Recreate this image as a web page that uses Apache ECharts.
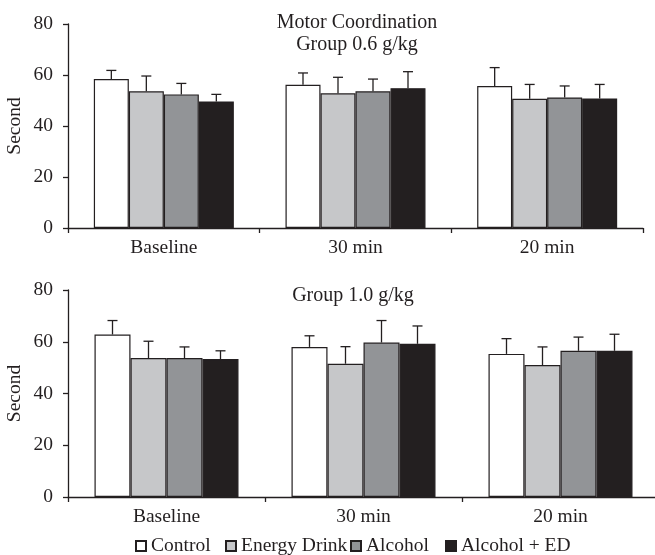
<!DOCTYPE html>
<html>
<head>
<meta charset="utf-8">
<script src="https://cdn.jsdelivr.net/npm/echarts@6/dist/echarts.min.js"></script>
<style>
  html, body { margin: 0; padding: 0; background: #fff; }
  #main { width: 655px; height: 555px; }
</style>
</head>
<body>
<div id="main"></div>
<script>
// data
var categories = ['Baseline', '30 min', '20 min'];
var groupNames = ['Control', 'Energy Drink', 'Alcohol', 'Alcohol + ED'];
var yTicks = [0, 20, 40, 60, 80];

// Group 0.6 g/kg (mean, upper error)
var low_control = [58.4, 56.2, 55.7];
var low_control_err = [3.4, 4.6, 7.2];
var low_energy = [53.6, 52.8, 50.7];
var low_energy_err = [6.0, 6.3, 5.6];
var low_alcohol = [52.4, 53.6, 51.2];
var low_alcohol_err = [4.3, 4.8, 4.5];
var low_alced = [49.6, 54.8, 50.8];
var low_alced_err = [2.8, 6.5, 5.5];

// Group 1.0 g/kg
var high_control = [62.8, 58.0, 55.3];
var high_control_err = [5.4, 4.3, 5.9];
var high_energy = [53.7, 51.5, 51.0];
var high_energy_err = [6.5, 6.6, 7.0];
var high_alcohol = [53.7, 59.7, 56.5];
var high_alcohol_err = [4.3, 8.5, 5.3];
var high_alced = [53.3, 59.2, 56.5];
var high_alced_err = [3.2, 6.9, 6.4];

var colors = ['#ffffff', '#c6c7c9', '#929497', '#231f20'];
var ink = '#231f20';
var font = '"Liberation Serif", "Times New Roman", serif';
var fs = 19.5;

var chart = echarts.init(document.getElementById('main'));

function xAxisFor(g) {
    return {
        type: 'category', gridIndex: g, data: categories,
        axisLine: { lineStyle: { color: ink, width: 1.3 } },
        axisTick: { show: true, length: 5, lineStyle: { color: ink, width: 1.3 } },
        axisLabel: { color: ink, fontFamily: font, fontSize: fs, margin: 10 }
    };
}
function yAxisFor(g) {
    return {
        type: 'value', gridIndex: g, min: yTicks[0], max: yTicks[yTicks.length - 1], interval: 20,
        name: 'Second', nameLocation: 'middle', nameGap: 43, nameMoveOverlap: false,
        nameTextStyle: { color: ink, fontFamily: font, fontSize: fs },
        splitLine: { show: false },
        axisLine: { show: true, lineStyle: { color: ink, width: 1.3 } },
        axisTick: { show: true, length: 5, lineStyle: { color: ink, width: 1.3 } },
        axisLabel: { color: ink, fontFamily: font, fontSize: fs, margin: 15 }
    };
}

var series = [];
function addGroup(g, barWidth, means, errs) {
    // bars
    means.forEach(function (m, i) {
        series.push({
            name: groupNames[i], type: 'bar', xAxisIndex: g, yAxisIndex: g,
            data: m, barWidth: barWidth, barGap: 0,
            itemStyle: { color: colors[i], borderColor: ink, borderWidth: 1.2 },
            emphasis: { disabled: true }
        });
    });
    // upper error bars
    means.forEach(function (m, i) {
        var off = (i - 1.5) * barWidth;
        series.push({
            name: 'err', type: 'custom', xAxisIndex: g, yAxisIndex: g, z: 5,
            data: m.map(function (v, k) { return [k, v, errs[i][k]]; }),
            renderItem: function (params, api) {
                var c = api.value(0), v = api.value(1), e = api.value(2);
                var p0 = api.coord([c, v]);
                var p1 = api.coord([c, v + e]);
                var x = p0[0] + off;
                var st = { stroke: ink, lineWidth: 1.3 };
                return {
                    type: 'group',
                    children: [
                        { type: 'line', shape: { x1: x, y1: p0[1], x2: x, y2: p1[1] }, style: st },
                        { type: 'line', shape: { x1: x - 5, y1: p1[1], x2: x + 5, y2: p1[1] }, style: st }
                    ]
                };
            }
        });
    });
}
addGroup(0, 35, [low_control, low_energy, low_alcohol, low_alced],
    [low_control_err, low_energy_err, low_alcohol_err, low_alced_err]);
addGroup(1, 36, [high_control, high_energy, high_alcohol, high_alced],
    [high_control_err, high_energy_err, high_alcohol_err, high_alced_err]);

var legendLefts = [135, 225, 350, 445];
var legends = groupNames.map(function (n, i) {
    return {
        data: [n], left: legendLefts[i], top: 536, padding: 0,
        itemWidth: 10, itemHeight: 10, icon: 'rect', selectedMode: false,
        textStyle: { color: ink, fontFamily: font, fontSize: fs }
    };
});

var option = {
    backgroundColor: '#fff',
    animation: false,
    textStyle: { fontFamily: font },
    title: [
        {
            text: 'Motor Coordination\nGroup 0.6 g/kg', left: 352, top: 7, textAlign: 'center',
            textStyle: { color: ink, fontFamily: font, fontSize: 20, fontWeight: 'normal', lineHeight: 22 }
        },
        {
            text: 'Group 1.0 g/kg', left: 348, top: 280, textAlign: 'center',
            textStyle: { color: ink, fontFamily: font, fontSize: 20, fontWeight: 'normal', lineHeight: 22 }
        }
    ],
    legend: legends,
    grid: [
        { left: 68, top: 24, width: 575, height: 204, outerBoundsMode: 'none' },
        { left: 68, top: 290, width: 591, height: 207, outerBoundsMode: 'none' }
    ],
    xAxis: [xAxisFor(0), xAxisFor(1)],
    yAxis: [yAxisFor(0), yAxisFor(1)],
    series: series
};

chart.setOption(option);
</script>
</body>
</html>
